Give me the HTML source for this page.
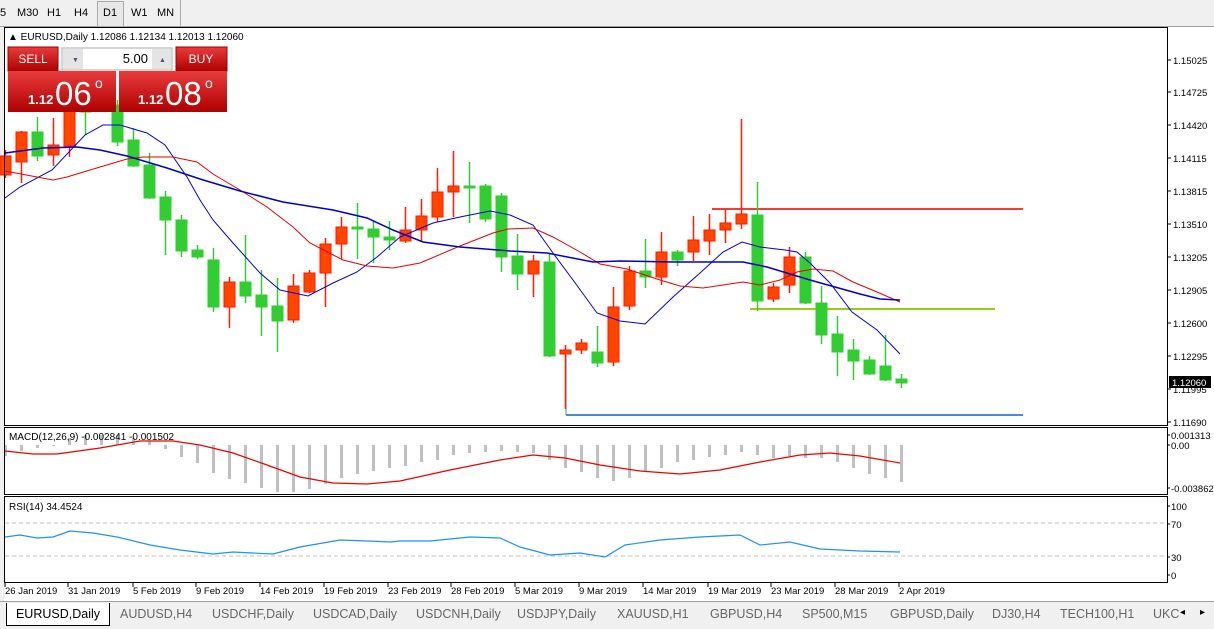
<!DOCTYPE html>
<html><head><meta charset="utf-8"><style>
body{margin:0;width:1214px;height:629px;overflow:hidden;background:#f0f0f0;font-family:"Liberation Sans",sans-serif;font-size:11px;position:relative}
.tb{position:absolute;top:0;left:0;width:1214px;height:26px;background:#f0f0f0;border-bottom:1px solid #a0a0a0}
.tb span{position:absolute;top:7px;font-size:11px;color:#000}
svg{position:absolute;left:0;top:0}
.tab{position:absolute;top:607px;font-size:12.5px;color:#666}
</style></head><body>
<div class="tb">
<span style="left:0">5</span><span style="left:17px">M30</span><span style="left:47px">H1</span><span style="left:74px">H4</span>
<div style="position:absolute;left:97px;top:1px;width:25px;height:24px;border:1px solid #aaa;background:#e8e8e8"></div>
<span style="left:103px">D1</span><span style="left:131px">W1</span><span style="left:157px">MN</span>
<div style="position:absolute;left:180px;top:0;width:1px;height:26px;background:#aaa"></div>
</div>
<svg id="s" width="1214" height="629" xmlns="http://www.w3.org/2000/svg" font-family="Liberation Sans, sans-serif" font-size="10"></svg>
<div class="tab" style="left:6px;top:603px;width:102px;height:22px;background:#fff;border:1px solid #000;border-top:none;color:#000;text-align:center;line-height:22px">EURUSD,Daily</div>
<span class="tab" style="left:120px">AUDUSD,H4</span><span class="tab" style="left:212px">USDCHF,Daily</span><span class="tab" style="left:313px">USDCAD,Daily</span><span class="tab" style="left:416px">USDCNH,Daily</span><span class="tab" style="left:517px">USDJPY,Daily</span><span class="tab" style="left:617px">XAUUSD,H1</span><span class="tab" style="left:710px">GBPUSD,H4</span><span class="tab" style="left:802px">SP500,M15</span><span class="tab" style="left:890px">GBPUSD,Daily</span><span class="tab" style="left:992px">DJ30,H4</span><span class="tab" style="left:1060px">TECH100,H1</span><span class="tab" style="left:1153px">UKC</span>
<span class="tab" style="left:1180px;color:#000;font-size:10px">◂</span><span class="tab" style="left:1200px;color:#000;font-size:10px">▸</span>
<script>
const S=document.getElementById('s');let h='';
h+='<rect x="4" y="27" width="1210" height="556" fill="#fff"/>';
h+='<rect x="0" y="583" width="1214" height="46" fill="#f0f0f0"/><rect x="4" y="583" width="1210" height="18" fill="#fff"/>';
// horizontal lines
h+='<line x1="566" y1="415" x2="1023" y2="415" stroke="#3a8ee6" stroke-width="2"/><line x1="566" y1="355" x2="566" y2="415" stroke="#3a8ee6" stroke-width="1"/>';
h+='<line x1="712" y1="209" x2="1023" y2="209" stroke="#f03c3c" stroke-width="2"/>';
h+='<line x1="750" y1="309" x2="995" y2="309" stroke="#9acd10" stroke-width="2"/>';
const C=[['u',156,175,150,178],['u',132,162,131,183],['d',132,156,117,161],['u',145,155,118,166],['u',105,146,100,157],['d',95,112,90,135],['d',95,110,90,112],['d',105,142,100,146],['d',140,166,128,167],['d',165,198,153,199],['d',197,220,191,255],['d',220,251,215,257],['d',250,257,245,259],['d',260,307,248,312],['u',282,307,277,328],['d',282,296,235,303],['d',295,307,270,336],['d',306,321,278,352],['u',286,320,274,323],['u',273,292,270,293],['u',244,273,238,307],['u',227,244,217,259],['d',227,229,203,259],['d',229,237,220,263],['d',237,240,221,250],['u',230,241,207,243],['u',216,230,199,241],['u',192,217,168,222],['u',186,192,151,217],['d',186,188,162,223],['d',186,219,184,222],['d',196,257,193,272],['d',256,274,234,290],['u',261,274,255,297],['d',262,356,254,357],['u',350,354,345,409],['u',343,350,339,354],['d',352,363,326,367],['u',307,362,287,366],['u',271,306,266,310],['d',271,277,239,288],['u',252,277,232,285],['d',252,260,250,266],['u',240,252,216,261],['u',230,241,214,255],['u',223,230,209,243],['u',214,224,119,229],['d',215,301,182,311],['u',287,299,283,302],['u',257,285,247,293],['d',257,303,252,304],['d',303,335,286,344],['d',334,352,316,376],['d',350,361,339,380],['d',360,374,356,375],['d',366,380,335,381],['d',379,383,374,388]];
C.forEach((c,k)=>{const x=5+16*k;const col=c[0]=='u'?'#ff4500':'#32cd32';const st=c[0]=='u'?'#ff1a00':'#32cd32';
h+=`<line x1="${x+.5}" y1="${c[3]}" x2="${x+.5}" y2="${c[4]}" stroke="${st}" stroke-width="1.5"/>`;
h+=`<rect x="${x-5}" y="${c[1]}" width="11" height="${Math.max(2,c[2]-c[1])}" fill="${col}" stroke="${st}" stroke-width="1"/>`;});
function pl(p,col,w){h+=`<polyline fill="none" stroke="${col}" stroke-width="${w}" points="${p}"/>`;}
pl('5,198 20,187 52,170 85,135 103,125 120,125 147,133 165,145 187,177 200,200 213,220 233,243 260,273 280,290 308,296 333,283 357,272 377,257 400,237 433,223 460,217 490,211 510,215 533,225 553,253 573,280 597,313 620,321 645,324 673,297 700,273 723,252 742,242 760,247 785,250 797,252 810,263 830,283 852,312 877,330 900,354','#0000dd',1);
pl('5,171 53,180 67,177 100,167 127,159 143,157 173,157 197,162 213,174 240,190 267,207 293,227 310,243 343,260 367,266 393,268 420,263 460,246 493,233 508,229 533,228 553,237 580,252 600,264 627,269 660,280 680,286 703,288 723,285 743,282 760,285 780,280 797,272 813,269 833,271 853,282 877,292 900,302','#ee0000',1);
pl('5,153 43,148 77,147 100,150 127,156 167,168 200,179 240,191 283,202 333,210 367,218 393,230 423,242 460,247 510,251 547,253 593,262 620,261 673,262 743,262 767,267 810,280 860,294 880,299 900,300','#0000cc',1.5);
// trade panel
h+='<defs><linearGradient id="g" x1="0" y1="0" x2="0" y2="1"><stop offset="0" stop-color="#e83c3c"/><stop offset="1" stop-color="#b00000"/></linearGradient></defs>';
h+='<rect x="8" y="47" width="50" height="24" fill="url(#g)" stroke="#900"/><text x="33" y="63" fill="#fff" font-size="12" text-anchor="middle">SELL</text>';
h+='<rect x="176" y="47" width="51" height="24" fill="url(#g)" stroke="#900"/><text x="201" y="63" fill="#fff" font-size="12" text-anchor="middle">BUY</text>';
h+='<rect x="62" y="48" width="110" height="22" fill="#fff" stroke="#aaa"/><rect x="63" y="49" width="20" height="20" fill="#e4e4e4"/><rect x="152" y="49" width="19" height="20" fill="#e4e4e4"/><text x="72" y="62" fill="#557" font-size="7">▼</text><text x="159" y="62" fill="#557" font-size="7">▲</text><text x="148" y="63" font-size="13" text-anchor="end">5.00</text>';
h+='<rect x="8" y="71" width="108" height="41" fill="url(#g)"/><rect x="119" y="71" width="108" height="41" fill="url(#g)"/>';
h+='<text x="28" y="104" fill="#fff" font-size="13" font-weight="bold">1.12</text><text x="55" y="105" fill="#fff" font-size="33">06</text><text x="95" y="88" fill="#fff" font-size="14">o</text>';
h+='<text x="138" y="104" fill="#fff" font-size="13" font-weight="bold">1.12</text><text x="165" y="105" fill="#fff" font-size="33">08</text><text x="205" y="88" fill="#fff" font-size="14">o</text>';
h+='<text x="8" y="40" font-size="10">▲ EURUSD,Daily  1.12086 1.12134 1.12013 1.12060</text>';
// MACD
const M=[456,451,448,446,438,435,435,435,438,441,449,457,463,473,479,483,488,492,492,489,484,478,474,471,468,466,462,460,455,453,452,451,452,453,460,468,472,478,481,478,472,468,462,460,457,455,452,455,458,456,458,458,462,468,474,478,482];
M.forEach((v,k)=>{const x=5+16*k;const y1=Math.min(v,445),y2=Math.max(v,445);h+=`<rect x="${x-1}" y="${y1}" width="3" height="${y2-y1}" fill="#c0c0c0"/>`;});
pl('5,451 33,454 57,454 100,448 140,441 173,441 200,445 233,453 267,465 300,477 333,483 367,484 400,481 450,470 500,460 533,455 565,458 600,465 640,471 680,474 720,470 760,462 800,455 830,453 860,456 900,463','#ee0000',1.2);
h+='<text x="9" y="440" font-size="10">MACD(12,26,9) -0.002841 -0.001502</text>';
// RSI
h+='<line x1="5" y1="523" x2="1166" y2="523" stroke="#c0c0c0" stroke-dasharray="4,3"/><line x1="5" y1="556" x2="1166" y2="556" stroke="#c0c0c0" stroke-dasharray="4,3"/>';
pl('5,537 20,535 37,538 53,537 70,531 93,533 117,537 150,545 180,550 213,554 233,552 273,554 300,547 323,543 340,540 367,541 390,542 400,541 430,541 470,537 500,538 520,547 550,555 580,553 605,557 625,545 660,540 700,537 740,535 760,545 790,542 820,549 860,551 900,552','#1e90ff',1.2);
h+='<text x="9" y="510" font-size="10">RSI(14) 34.4524</text>';
// frames
h+='<rect x="4.5" y="27.5" width="1163" height="398" fill="none" stroke="#000"/><rect x="4.5" y="427.5" width="1163" height="67" fill="none" stroke="#000"/><rect x="4.5" y="496.5" width="1163" height="86" fill="none" stroke="#000"/>';
// price axis
[['1.15025',60],['1.14725',92],['1.14420',125],['1.14115',158],['1.13815',191],['1.13510',224],['1.13205',257],['1.12905',290],['1.12600',323],['1.12295',356],['1.11995',389],['1.11690',422]].forEach(a=>{h+=`<line x1="1167" y1="${a[1]}" x2="1171" y2="${a[1]}" stroke="#000"/><text x="1173" y="${a[1]+4}" font-size="9.5">${a[0]}</text>`;});
h+='<rect x="1169" y="376" width="42" height="12" fill="#000"/><text x="1172" y="386" fill="#fff" font-size="9.5">1.12060</text>';
[['0.001313',436],['0.00',446],['-0.003862',489],['100',507],['70',525],['30',558],['0',576]].forEach(a=>{h+=`<line x1="1167" y1="${a[1]-1}" x2="1170" y2="${a[1]-1}" stroke="#000"/><text x="1171" y="${a[1]+3}" font-size="9.5">${a[0]}</text>`;});
// dates
[['26 Jan 2019',5],['31 Jan 2019',68],['5 Feb 2019',133],['9 Feb 2019',196],['14 Feb 2019',260],['19 Feb 2019',324],['23 Feb 2019',388],['28 Feb 2019',451],['5 Mar 2019',515],['9 Mar 2019',579],['14 Mar 2019',643],['19 Mar 2019',708],['23 Mar 2019',771],['28 Mar 2019',835],['2 Apr 2019',899]].forEach(a=>{h+=`<line x1="${a[1]}" y1="583" x2="${a[1]}" y2="587" stroke="#000"/><text x="${a[1]}" y="594" font-size="9.5">${a[0]}</text>`;});
h+='<line x1="0" y1="601.5" x2="1214" y2="601.5" stroke="#a0a0a0"/>';
S.innerHTML=h;
</script>
</body></html>
